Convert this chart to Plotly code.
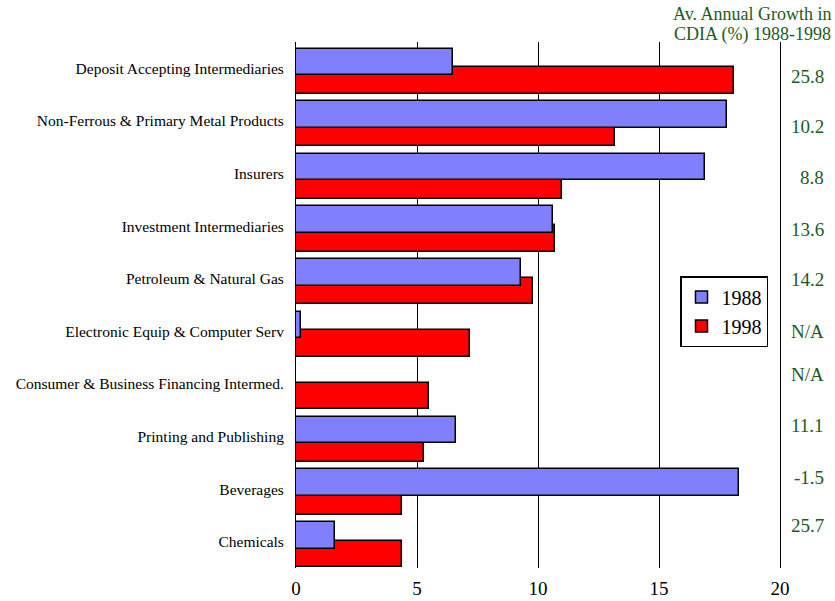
import plotly.graph_objects as go

# Industry categories (top to bottom)
categories = [
    "Deposit Accepting Intermediaries",
    "Non-Ferrous & Primary Metal Products",
    "Insurers",
    "Investment Intermediaries",
    "Petroleum & Natural Gas",
    "Electronic Equip & Computer Serv",
    "Consumer & Business Financing Intermed.",
    "Printing and Publishing",
    "Beverages",
    "Chemicals",
]

# Canadian direct investment abroad by industry (%)
values_1988 = [6.5, 17.8, 16.9, 10.6, 9.3, 0.2, 0.0, 6.6, 18.3, 1.6]
values_1998 = [18.1, 13.2, 11.0, 10.7, 9.8, 7.2, 5.5, 5.3, 4.4, 4.4]

# Average annual growth 1988-1998 (%)
growth_labels = ["25.8", "10.2", "8.8", "13.6", "14.2", "N/A", "N/A", "11.1", "-1.5", "25.7"]
growth_title = ["Av. Annual Growth in", "CDIA (%) 1988-1998"]

x_ticks = [0, 5, 10, 15, 20]

SERIF = "Liberation Serif"
GREEN = "#1E5A1E"

# plot area in pixels (for placing side text)
L, R, T, B = 296, 780, 42, 568
W, H = 835, 601

def px_x(px):
    return (px - L) / (R - L)

def px_y(py):
    return (B - py) / (B - T)

fig = go.Figure()

# 1998 drawn first so the 1988 bars sit on top where they overlap
fig.add_trace(go.Bar(
    y=categories, x=values_1998, orientation="h", name="1998",
    marker=dict(color="#FF0000", line=dict(color="black", width=1.5)),
    offset=-0.02, width=0.505, legendrank=2,
))
fig.add_trace(go.Bar(
    y=categories, x=values_1988, orientation="h", name="1988",
    marker=dict(color="#8080FF", line=dict(color="black", width=1.5)),
    offset=-0.375, width=0.505, legendrank=1,
))

# growth figures in the right margin
growth_px_y = [77, 126, 177, 229, 279, 332, 374, 425, 477, 525]
annotations = []
for lab, py in zip(growth_labels, growth_px_y):
    annotations.append(dict(
        text=lab, xref="paper", yref="paper", x=px_x(826), y=px_y(py),
        xanchor="right", yanchor="middle", showarrow=False,
        font=dict(family=SERIF, size=19, color=GREEN),
    ))
for line, py in zip(growth_title, [14, 34]):
    annotations.append(dict(
        text=line, xref="paper", yref="paper", x=px_x(833), y=px_y(py),
        xanchor="right", yanchor="middle", showarrow=False,
        font=dict(family=SERIF, size=18, color=GREEN),
    ))

fig.update_layout(
    width=W, height=H,
    margin=dict(l=L, r=W - R, t=T, b=H - B, pad=0, autoexpand=False),
    paper_bgcolor="white", plot_bgcolor="white",
    barmode="overlay",
    bargap=0,
    font=dict(family=SERIF, color="black"),
    annotations=annotations,
    legend=dict(
        x=px_x(680), y=px_y(276), xanchor="left", yanchor="top",
        bgcolor="white", bordercolor="black", borderwidth=1.5,
        font=dict(family=SERIF, size=20, color="black"),
        traceorder="normal", tracegroupgap=0,
        itemwidth=30,
    ),
    xaxis=dict(
        range=[0, 20], tickvals=x_ticks, ticktext=[str(v) for v in x_ticks],
        showgrid=True, gridcolor="black", gridwidth=1,
        zeroline=False, showline=False, ticks="",
        tickfont=dict(family=SERIF, size=19, color="black"),
        ticklabelstandoff=7, automargin=False,
    ),
    yaxis=dict(
        autorange="reversed", showgrid=False, zeroline=False,
        showline=True, mirror=True, linecolor="black", linewidth=1,
        ticks="", ticklabelstandoff=8, automargin=False,
        tickfont=dict(family=SERIF, size=15.5, color="black"),
    ),
)

fig.write_html("out.html")
